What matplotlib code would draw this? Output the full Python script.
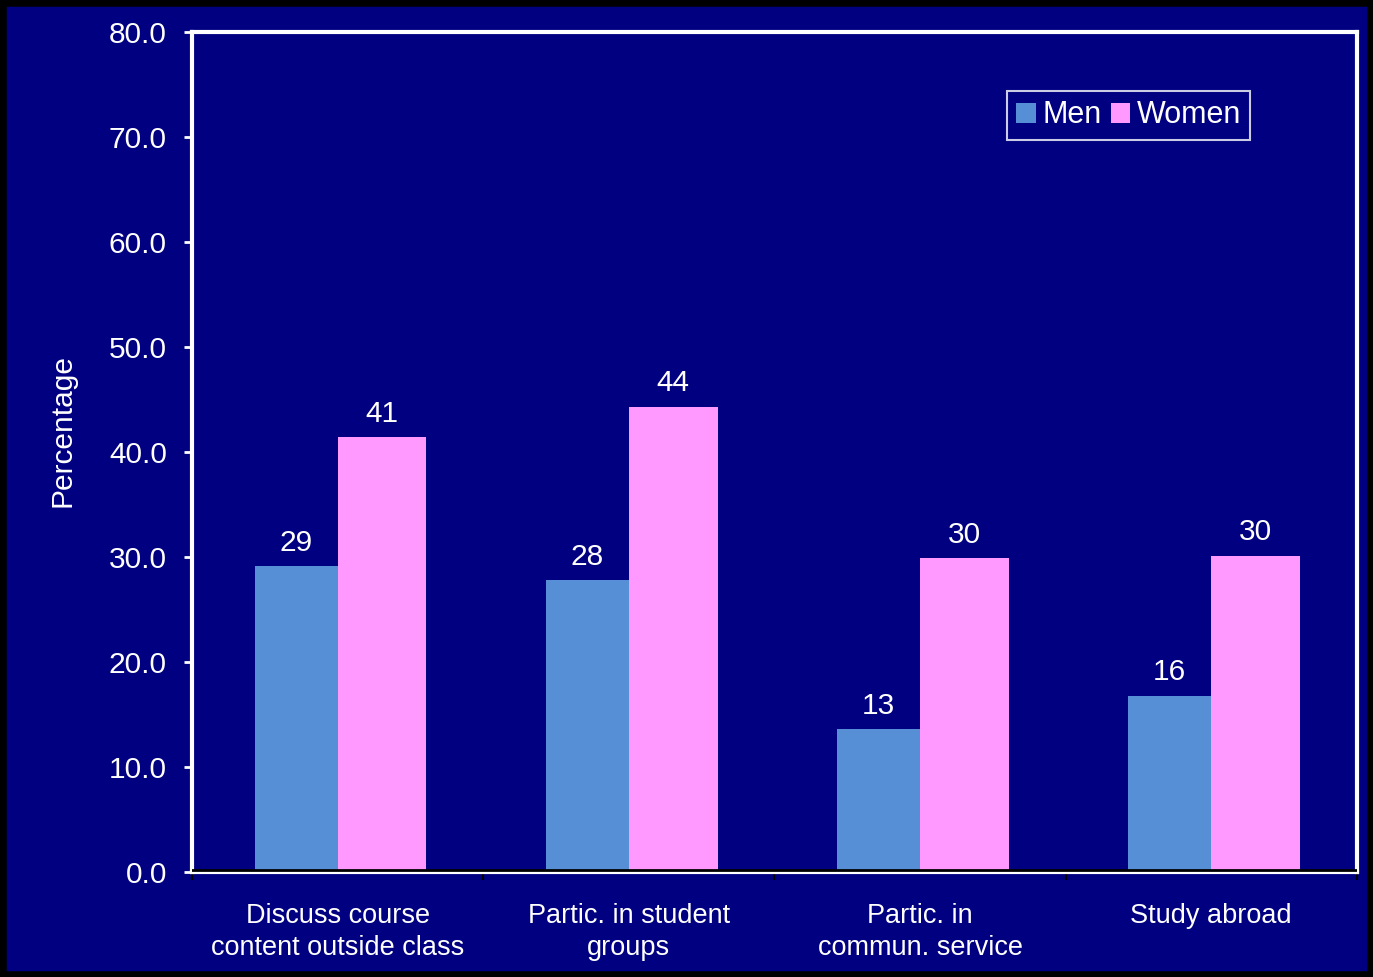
import matplotlib
matplotlib.use("Agg")
import matplotlib.pyplot as plt
from matplotlib.patches import Rectangle
import numpy as np

plt.rcParams['font.family'] = ['Liberation Sans', 'DejaVu Sans']

categories = ["Discuss course\ncontent outside class", "Partic. in student\ngroups",
              "Partic. in\ncommun. service", "Study abroad"]
men = [29.1, 27.8, 13.6, 16.8]
women = [41.4, 44.3, 29.9, 30.1]
men_labels = ["29", "28", "13", "16"]
women_labels = ["41", "44", "30", "30"]
series_names = ["Men", "Women"]
yticks = [0, 10, 20, 30, 40, 50, 60, 70, 80]

navy = "#000080"
men_color = "#568FD6"
women_color = "#FF99FF"

fig = plt.figure(figsize=(13.73, 9.77), dpi=100)
fig.patch.set_facecolor(navy)
fig.patches.append(Rectangle((0, 0), 1, 1, transform=fig.transFigure,
                             fill=False, edgecolor="black", linewidth=9, zorder=10))

ax = fig.add_axes([0.1398, 0.1075, 0.8485, 0.8598])
ax.set_facecolor(navy)

x = np.arange(len(categories)) + 0.5
bm = ax.bar(x, men, width=-0.285, align='edge', color=men_color, label=series_names[0], zorder=2)
bw = ax.bar(x, women, width=0.305, align='edge', color=women_color, label=series_names[1], zorder=2)

for rect, lab in zip(bm, men_labels):
    ax.text(rect.get_x() + rect.get_width() / 2, rect.get_height() + 0.9, lab,
            ha='center', va='bottom', color='white', fontsize=21.5)
for rect, lab in zip(bw, women_labels):
    ax.text(rect.get_x() + rect.get_width() / 2, rect.get_height() + 0.9, lab,
            ha='center', va='bottom', color='white', fontsize=21.5)

ax.set_xlim(0, 4)
ax.set_ylim(0, 80)
ax.set_yticks(yticks)
ax.set_yticklabels([f"{v:.1f}" for v in yticks], color='white', fontsize=21.5)
ax.tick_params(axis='y', colors='white', length=6, width=2, direction='out', pad=12)

ax.set_xticks(np.arange(0, 5))
ax.set_xticklabels([])
ax.tick_params(axis='x', which='major', colors='black', length=6, width=1.5, direction='out')
ax.set_xticks(x, minor=True)
ax.set_xticklabels(categories, minor=True, color='white', fontsize=19.5, linespacing=1.3)
ax.tick_params(axis='x', which='minor', length=0, pad=22)

for s in ['left', 'right', 'top']:
    ax.spines[s].set_color('white')
    ax.spines[s].set_linewidth(3)
ax.spines['bottom'].set_color('white')
ax.spines['bottom'].set_linewidth(3)
ax.axhline(0.15, color='black', linewidth=2, zorder=3)

ax.set_ylabel("Percentage", color='white', fontsize=21.5)
ax.yaxis.set_label_coords(-0.0987, 0.526)

leg = ax.legend(loc='upper left', bbox_to_anchor=(0.6865, 0.9475), ncol=2, frameon=True,
                fontsize=22, handlelength=0.65, handleheight=0.65, handletextpad=0.2,
                columnspacing=0.3, borderpad=0.3, fancybox=False)
leg.get_frame().set_facecolor(navy)
leg.get_frame().set_edgecolor('white')
leg.get_frame().set_linewidth(1.5)
for t in leg.get_texts():
    t.set_color('white')

fig.savefig("out.png", dpi=100, facecolor=fig.get_facecolor())
